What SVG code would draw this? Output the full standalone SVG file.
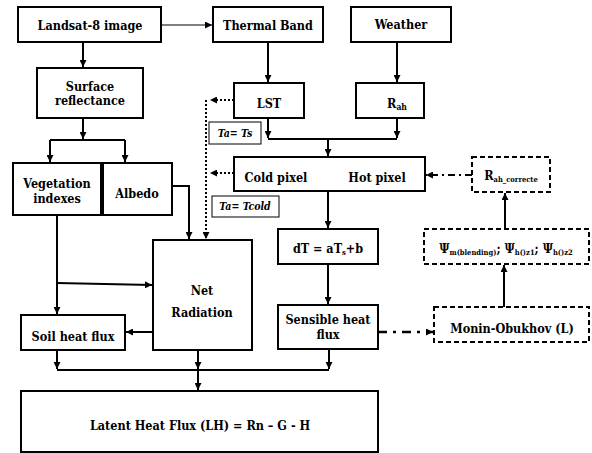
<svg xmlns="http://www.w3.org/2000/svg" width="592" height="453" viewBox="0 0 592 453">
<defs>
<style>
.b{fill:#fff;stroke:#000;stroke-width:2}
.d{fill:#fff;stroke:#000;stroke-width:2;stroke-dasharray:5,3}
.s{fill:#fff;stroke:#000;stroke-width:1}
.t{font-weight:bold;font-size:12.5px;text-anchor:middle;fill:#000}
.i{font-style:italic;font-size:10.5px}
.c{fill:none;stroke:#000;stroke-width:2}
.thin{stroke-width:1.2}
.dot{stroke-dasharray:2,2}
.dd{stroke-dasharray:7,4,2,4}
.dd2{stroke-width:2.5;stroke-dasharray:9,6,3,6}
</style>
<marker id="ah" viewBox="0 0 10 10" refX="10" refY="5" markerWidth="7" markerHeight="7" markerUnits="userSpaceOnUse" orient="auto">
<path d="M0,0 L10,5 L0,10 z" fill="#000"/>
</marker>
</defs>
<rect width="592" height="453" fill="#fff"/>
<g id="connectors" marker-end="url(#ah)">
<path class="c thin" d="M161,25 H212"/>
<path class="c" d="M83,42 V67"/>
<path class="c" d="M83,118 V139"/>
<path class="c" d="M50,140 H125" marker-end="none"/>
<path class="c" d="M50,140 V162"/>
<path class="c" d="M125,140 V162"/>
<path class="c" d="M268,42 V82"/>
<path class="c" d="M397,42 V82"/>
<path class="c" d="M268,118 V138"/>
<path class="c" d="M397,118 V138"/>
<path class="c" d="M268,139 H397" marker-end="none"/>
<path class="c" d="M328,139 V156"/>
<path class="c dot" d="M234,100 H210"/>
<path class="c dot" d="M206,100 V239"/>
<path class="c dot" d="M234,173 H210"/>
<path class="c" d="M172,186 H189 V239"/>
<path class="c" d="M57,215 V314"/>
<path class="c" d="M57,283 L152,285"/>
<path class="c" d="M153,332 H126"/>
<path class="c" d="M57,350 V369"/>
<path class="c" d="M198,350 V369"/>
<path class="c" d="M329,349 V369"/>
<path class="c" d="M57,370 H329" marker-end="none"/>
<path class="c" d="M198,370 V390"/>
<path class="c" d="M328,191 V228"/>
<path class="c" d="M328,264 V304"/>
<path class="c dd" d="M472,175 H426"/>
<path class="c" d="M505,229 V193"/>
<path class="c" d="M504,307 V265"/>
<path class="c dd2" d="M378,332 H433"/>
</g>
<g font-family="DejaVu Serif Condensed, DejaVu Serif, Liberation Serif, serif" font-stretch="condensed">
<g id="landsat"><rect class="b" x="18" y="7" width="143" height="35"/><text class="t" x="90" y="30">Landsat-8 image</text></g>
<g id="thermal"><rect class="b" x="213" y="7" width="110" height="35"/><text class="t" x="268" y="30">Thermal Band</text></g>
<g id="weather"><rect class="b" x="351" y="7" width="100" height="35"/><text class="t" x="401" y="29">Weather</text></g>
<g id="surface"><rect class="b" x="37" y="68" width="106" height="50"/><text class="t" x="90" y="91">Surface</text><text class="t" x="90" y="105">reflectance</text></g>
<g id="lst"><rect class="b" x="234" y="83" width="70" height="35"/><text class="t" x="269" y="108">LST</text></g>
<g id="rah"><rect class="b" x="356" y="83" width="68" height="35"/><text class="t" x="397" y="108">R<tspan font-size="8.5" dy="2">ah</tspan></text></g>
<g id="tats"><rect class="s" x="209" y="122" width="52" height="22"/><text class="t i" x="235" y="137">Ta= Ts</text></g>
<g id="vegetation"><rect class="b" x="13" y="163" width="88" height="52"/><text class="t" x="57" y="188">Vegetation</text><text class="t" x="57" y="203">indexes</text></g>
<g id="albedo"><rect class="b" x="103" y="163" width="69" height="52"/><text class="t" x="137" y="198">Albedo</text></g>
<g id="coldhot"><rect class="b" x="234" y="157" width="191" height="34"/><text class="t" x="276" y="182">Cold pixel</text><text class="t" x="377" y="182">Hot pixel</text></g>
<g id="tacold"><rect class="s" x="212" y="196" width="67" height="21"/><text class="t i" x="245" y="210">Ta= Tcold</text></g>
<g id="rahcorr"><rect class="d" x="472" y="157" width="78" height="35"/><text class="t" x="511" y="180">R<tspan font-size="7.5" dy="2">ah_correcte</tspan></text></g>
<g id="netrad"><rect class="b" x="153" y="240" width="99" height="110"/><text class="t" x="202" y="295">Net</text><text class="t" x="202" y="317">Radiation</text></g>
<g id="dt"><rect class="b" x="278" y="229" width="100" height="35"/><text class="t" x="328" y="253">dT = aT<tspan font-size="7.5" dy="2">s</tspan><tspan dy="-2">+b</tspan></text></g>
<g id="psi"><rect class="d" x="424" y="229" width="165" height="35"/><text class="t" x="506" y="253">Ψ<tspan font-size="7.5" dy="2">m(blending)</tspan><tspan dy="-2">; Ψ</tspan><tspan font-size="7.5" dy="2">h()z1</tspan><tspan dy="-2">; Ψ</tspan><tspan font-size="7.5" dy="2">h()z2</tspan></text></g>
<g id="soil"><rect class="b" x="21" y="315" width="104" height="35"/><text class="t" x="73" y="341">Soil heat flux</text></g>
<g id="sensible"><rect class="b" x="278" y="305" width="100" height="44"/><text class="t" x="328" y="324">Sensible heat</text><text class="t" x="328" y="339">flux</text></g>
<g id="monin"><rect class="d" x="434" y="307" width="155" height="35"/><text class="t" x="512" y="333">Monin-Obukhov (L)</text></g>
<g id="latent"><rect class="b" x="21" y="391" width="357" height="61"/><text class="t" x="200" y="430">Latent Heat Flux (LH) = Rn – G - H</text></g>
</g>
</svg>
